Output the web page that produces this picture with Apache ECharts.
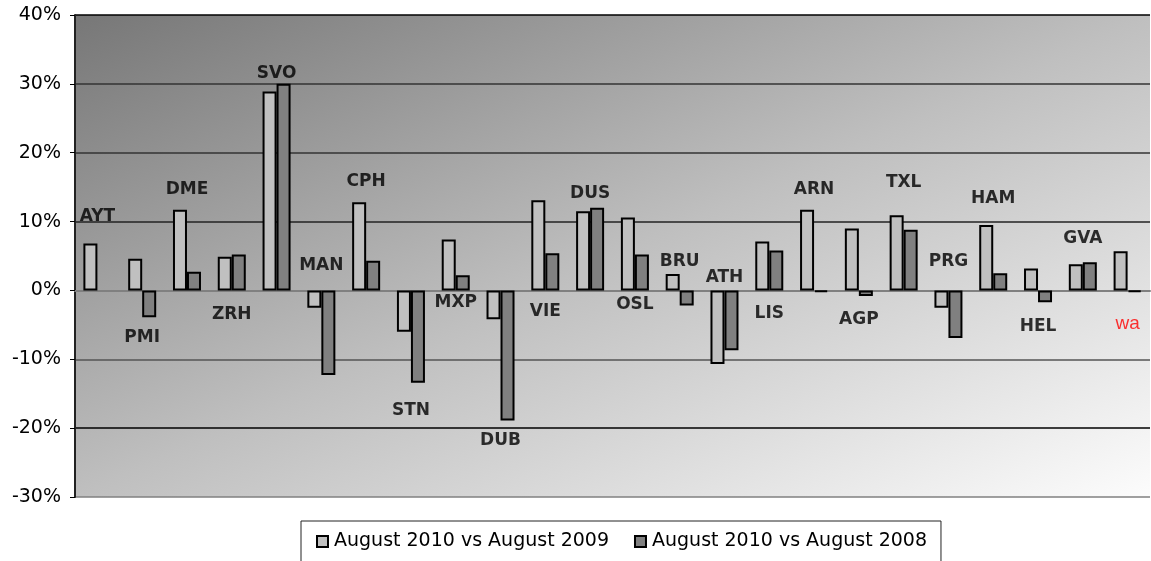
<!DOCTYPE html>
<html>
<head>
<meta charset="utf-8">
<script src="https://cdn.jsdelivr.net/npm/echarts@6/dist/echarts.min.js"></script>
<style>
  html, body { margin: 0; padding: 0; background: #fff; }
  #chart { width: 1151px; height: 561px; }
</style>
</head>
<body>
<div id="chart"></div>
<script>
// airports on the category axis
var airports = ['AYT', 'PMI', 'DME', 'ZRH', 'SVO', 'MAN', 'CPH', 'STN', 'MXP', 'DUB', 'VIE', 'DUS',
                'OSL', 'BRU', 'ATH', 'LIS', 'ARN', 'AGP', 'TXL', 'PRG', 'HAM', 'HEL', 'GVA', 'wa'];
// growth in %
var vs2009 = [6.8, 4.6, 11.7, 4.9, 28.9, -2.5, 12.8, -6.0, 7.4, -4.2, 13.1, 11.5,
              10.6, 2.4, -10.7, 7.1, 11.7, 9.0, 10.9, -2.5, 9.5, 3.2, 3.8, 5.7];
var vs2008 = ['-', -3.9, 2.7, 5.2, 30.0, -12.3, 4.3, -13.4, 2.2, -18.9, 5.4, 12.0,
              5.2, -2.2, -8.7, 5.8, -0.25, -0.8, 8.8, -6.9, 2.5, -1.7, 4.1, -0.25];
var seriesNames = ['August 2010 vs August 2009', 'August 2010 vs August 2008'];

// where the airport names sit (in % of the value axis)
var labelY = [10.7, -6.8, 14.6, -3.5, 31.5, 3.6, 15.8, -17.4, -1.8, -21.8, -3.1, 14.1,
              -2.1, 4.2, 1.9, -3.3, 14.6, -4.3, 15.7, 4.2, 13.4, -5.3, 7.5, -4.9];

var labelData = airports.map(function (name, i) {
    var item = { value: [i, labelY[i]] };
    if (name === 'wa') {
        item.label = { color: '#ff0000', fontFamily: 'Liberation Sans', fontWeight: 'normal', fontSize: 19 };
    }
    return item;
});

var chart = echarts.init(document.getElementById('chart'));

// diagonal shading: the gradient vector is picked so the grey is even along x/w + y/h
var plotW = 1075, plotH = 482;
var k = 2 / (1 / (plotW * plotW) + 1 / (plotH * plotH));

var option = {
    animation: false,
    grid: {
        left: 75,
        right: 1,
        top: 15,
        bottom: 64,
        show: true,
        borderWidth: 0,
        backgroundColor: new echarts.graphic.LinearGradient(0, 0, k / plotW / plotW, k / plotH / plotH, [
            { offset: 0, color: '#777777' },
            { offset: 0.5, color: '#bfbfbf' },
            { offset: 1, color: '#fcfcfc' }
        ])
    },
    legend: {
        top: 521,
        left: 301,
        data: seriesNames,
        icon: 'rect',
        itemWidth: 11,
        itemHeight: 11,
        itemGap: 25,
        borderColor: '#222',
        borderWidth: 1,
        borderRadius: 0,
        padding: [11, 14, 20, 15],
        textStyle: { fontFamily: 'DejaVu Sans', fontSize: 19, color: '#000', padding: [0, 0, 0, 1] }
    },
    xAxis: {
        type: 'category',
        data: airports,
        axisLine: { show: true, onZero: true, lineStyle: { color: '#808080', width: 2 } },
        axisTick: { show: false },
        axisLabel: { show: false },
        splitLine: { show: false }
    },
    yAxis: {
        type: 'value',
        min: -30,
        max: 40,
        interval: 10,
        axisLine: { show: true, lineStyle: { color: '#222', width: 2 } },
        axisTick: { show: true, length: 5, lineStyle: { color: '#000' } },
        axisLabel: {
            formatter: '{value}%',
            fontFamily: 'DejaVu Sans',
            fontSize: 19,
            color: '#000',
            margin: 14
        },
        splitLine: {
            show: true,
            lineStyle: {
                color: ['#808080', '#000', '#555', '#808080', '#222', '#333', '#333', '#000'],
                width: 1.5
            }
        }
    },
    series: [
        {
            name: seriesNames[0],
            type: 'bar',
            data: vs2009,
            barWidth: 14,
            barGap: '0%',
            itemStyle: { color: '#c0c0c0', borderColor: '#000', borderWidth: 2 }
        },
        {
            name: seriesNames[1],
            type: 'bar',
            data: vs2008,
            barWidth: 14,
            barGap: '0%',
            itemStyle: { color: '#808080', borderColor: '#000', borderWidth: 2 }
        },
        {
            name: 'labels',
            type: 'scatter',
            data: labelData,
            symbolSize: 0,
            silent: true,
            z: 5,
            label: {
                show: true,
                position: 'inside',
                formatter: function (p) { return airports[p.dataIndex]; },
                fontFamily: 'DejaVu Sans',
                fontWeight: 'bold',
                fontSize: 17,
                color: '#000'
            }
        }
    ]
};

chart.setOption(option);
</script>
</body>
</html>
